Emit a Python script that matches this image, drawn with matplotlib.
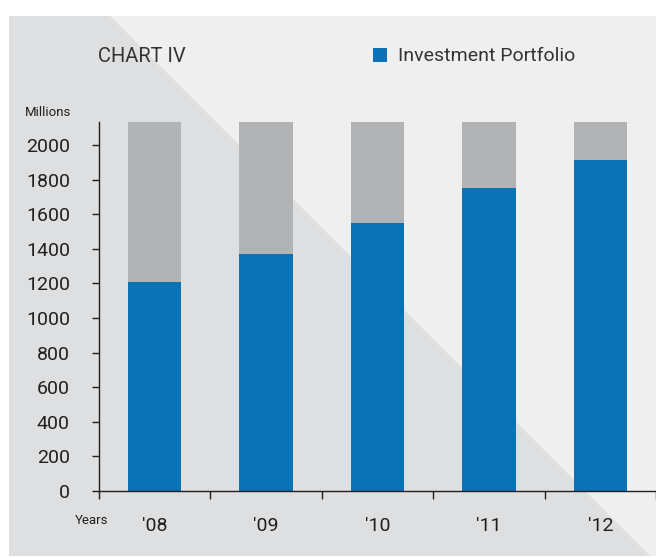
import matplotlib
matplotlib.use("Agg")
import matplotlib.pyplot as plt
from matplotlib.patches import Polygon, Rectangle
import matplotlib.font_manager as fm

years = ["'08", "'09", "'10", "'11", "'12"]
portfolio = [1208, 1370, 1549, 1751, 1913]
total = [2133, 2133, 2133, 2133, 2133]
yticks = [0, 200, 400, 600, 800, 1000, 1200, 1400, 1600, 1800, 2000]

names = {f.name for f in fm.fontManager.ttflist}
FONT = "Liberation Sans Narrow" if "Liberation Sans Narrow" in names else "Roboto"
plt.rcParams['font.family'] = [FONT, 'DejaVu Sans']

BLUE = "#0b72b5"
GRAY = "#b2b3b5"
LIGHT = "#efefef"
DARK = "#dedfe1"
TXT = "#231f20"

W, H = 656, 558
fig = plt.figure(figsize=(W / 100, H / 100), dpi=100)
fig.patch.set_facecolor("white")

def fx(px):
    return px / W

def fy(py):
    return 1 - py / H

# background panel
fig.patches.append(Rectangle((fx(9), fy(556)), fx(700) - fx(9), fy(16) - fy(556),
                             transform=fig.transFigure, facecolor=LIGHT, edgecolor="none", zorder=-2))
# darker triangle (lower-left), 45-degree diagonal
tri = [(fx(9), fy(16)), (fx(110), fy(16)), (fx(650), fy(556)), (fx(9), fy(556))]
fig.patches.append(Polygon(tri, closed=True, transform=fig.transFigure,
                           facecolor=DARK, edgecolor="none", zorder=-1))

ax = fig.add_axes([fx(99), fy(491), fx(W) - fx(99), fy(122) - fy(491)])
ax.set_zorder(5)
ax.patch.set_alpha(0)
x = list(range(len(years)))
ax.bar(x, total, width=0.478, color=GRAY, zorder=2)
ax.bar(x, portfolio, width=0.478, color=BLUE, zorder=3)
ax.set_xlim(-0.5, 4.43)
ax.set_ylim(0, 2133)

for s in ["top", "right"]:
    ax.spines[s].set_visible(False)
for s in ["left", "bottom"]:
    ax.spines[s].set_color(TXT)
    ax.spines[s].set_linewidth(1.0)
    ax.spines[s].set_zorder(4)

ax.set_yticks(yticks)
ax.set_yticklabels([str(v) for v in yticks])
ax.tick_params(axis="y", direction="out", length=5, width=1, color=TXT,
               labelsize=14, labelcolor=TXT, pad=16)

ax.set_xticks(x)
ax.set_xticklabels(years)
ax.tick_params(axis="x", which="major", length=0, labelsize=14, labelcolor=TXT, pad=19)
ax.set_xticks([i - 0.5 for i in range(len(years) + 1)], minor=True)
ax.tick_params(axis="x", which="minor", direction="out", length=6, width=1, color=TXT)

fig.text(fx(25), fy(113), "Millions", fontsize=9.5, color=TXT, ha="left", va="center")
fig.text(fx(75), fy(520), "Years", fontsize=9.5, color=TXT, ha="left", va="center")
fig.text(fx(98), fy(56), "CHART IV", fontsize=14.5, color="#333333", ha="left", va="center")
fig.patches.append(Rectangle((fx(373), fy(62)), fx(14), fy(48) - fy(62),
                             transform=fig.transFigure, facecolor=BLUE, edgecolor="none"))
fig.text(fx(398), fy(56), "Investment Portfolio", fontsize=14, color="#333333",
         ha="left", va="center")

fig.savefig("out.png", dpi=100, facecolor=fig.get_facecolor())
